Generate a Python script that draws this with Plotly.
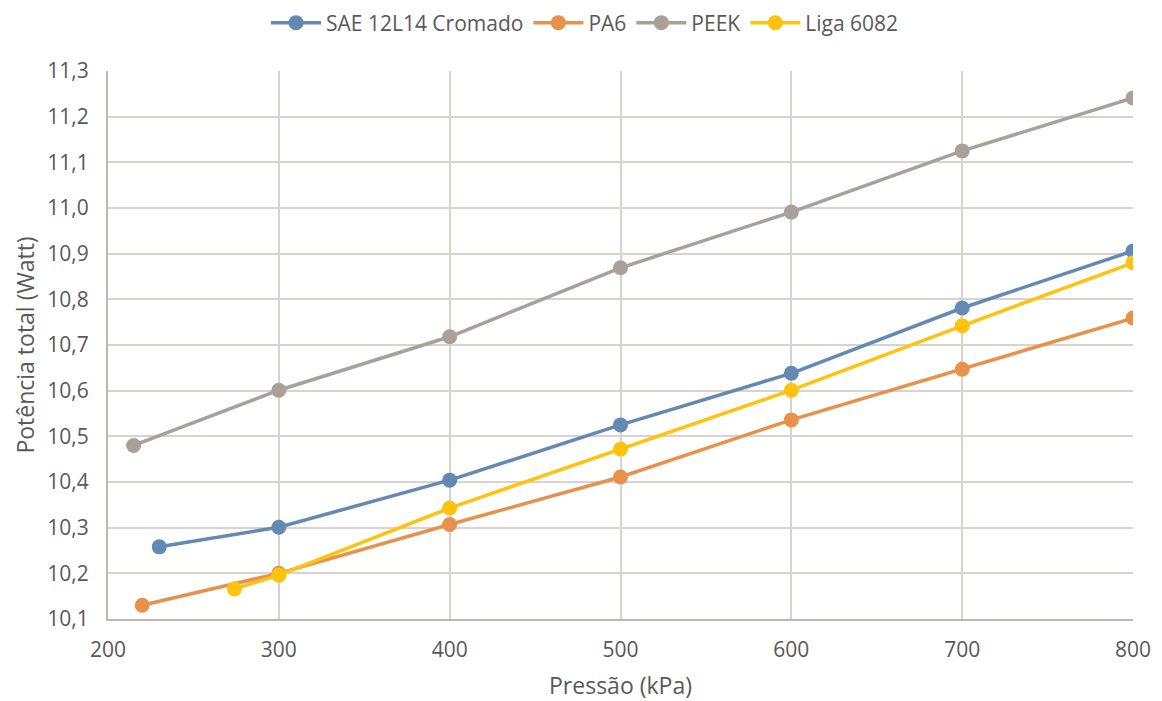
import plotly.graph_objects as go

# Pressão (kPa) e Potência total (W) por material
sae_x = [230, 300, 400, 500, 600, 700, 800]
sae_y = [10.258, 10.301, 10.404, 10.525, 10.638, 10.781, 10.906]

pa6_x = [220, 300, 400, 500, 600, 700, 800]
pa6_y = [10.130, 10.200, 10.307, 10.411, 10.536, 10.647, 10.759]

peek_x = [215, 300, 400, 500, 600, 700, 800]
peek_y = [10.480, 10.601, 10.718, 10.869, 10.991, 11.125, 11.241]

liga_x = [274, 300, 400, 500, 600, 700, 800]
liga_y = [10.166, 10.196, 10.343, 10.472, 10.601, 10.742, 10.880]

series = [
    ("SAE 12L14 Cromado", sae_x, sae_y, "#6489B2"),
    ("PA6", pa6_x, pa6_y, "#E8914A"),
    ("PEEK", peek_x, peek_y, "#A8A09B"),
    ("Liga 6082", liga_x, liga_y, "#FFC20E"),
]

fig = go.Figure()
for name, xs, ys, color in series:
    fig.add_trace(go.Scatter(
        x=xs, y=ys, name=name, mode="lines+markers",
        line=dict(color=color, width=3.5),
        marker=dict(color=color, size=15),
    ))

# the page has an 8px body margin, so the figure is a bit smaller than the window
W, H = 1154, 693
font = "'Open Sans', sans-serif"
txt = "#595959"
fig.update_layout(
    width=W, height=H,
    margin=dict(l=100, r=29, t=63, b=82, autoexpand=False),
    plot_bgcolor="white", paper_bgcolor="white",
    separators=",.",
    font=dict(family=font, size=21, color=txt),
    legend=dict(orientation="h", xref="container", yref="container",
                x=0.5, xanchor="center", y=1 - 15 / H, yanchor="middle",
                font=dict(size=21, color=txt), itemwidth=50,
                bgcolor="rgba(0,0,0,0)"),
    showlegend=True,
)
fig.update_xaxes(
    range=[200, 800], dtick=100, tickformat="d",
    showgrid=True, gridcolor="#D9D3D0", gridwidth=2,
    showline=True, linecolor="#BFB7B3", linewidth=2,
    ticks="outside", ticklen=11, tickcolor="rgba(0,0,0,0)",
    tickfont=dict(size=21, color=txt),
    automargin=False,
    title=dict(text="Pressão (kPa)", font=dict(size=23, color=txt), standoff=18),
)
fig.update_yaxes(
    range=[10.1, 11.3], dtick=0.1, tickformat=".1f",
    showgrid=True, gridcolor="#D9D3D0", gridwidth=2,
    showline=True, linecolor="#BFB7B3", linewidth=2,
    ticks="outside", ticklen=13, tickcolor="rgba(0,0,0,0)",
    tickfont=dict(size=21, color=txt),
    zeroline=False, automargin=False,
    title=dict(text="Potência total (Watt)", font=dict(size=23, color=txt), standoff=6),
)

fig.write_html("out.html")
